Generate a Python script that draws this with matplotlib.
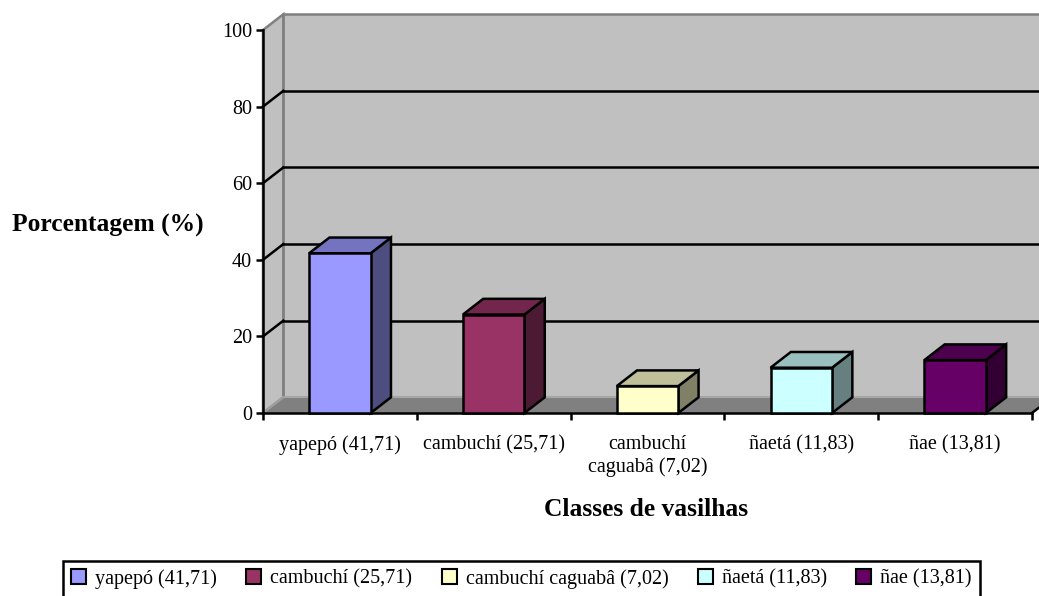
# -*- coding: utf-8 -*-
import matplotlib.pyplot as plt
from matplotlib.patches import Polygon, Rectangle, Patch
import numpy as np

plt.rcParams['font.family'] = ['Liberation Serif', 'DejaVu Serif']

# dados
classes = ['yapepó (41,71)', 'cambuchí (25,71)', 'cambuchí\ncaguabâ (7,02)', 'ñaetá (11,83)', 'ñae (13,81)']
legenda = ['yapepó (41,71)', 'cambuchí (25,71)', 'cambuchí caguabâ (7,02)', 'ñaetá (11,83)', 'ñae (13,81)']
porcentagem = [41.71, 25.71, 7.02, 11.83, 13.81]
cor_frente = ['#9999FF', '#993366', '#FFFFCC', '#CCFFFF', '#660066']
cor_topo = ['#7373BF', '#73264D', '#BFBF99', '#99BFBF', '#4D004D']
cor_lado = ['#4D4D80', '#4D1A33', '#808066', '#668080', '#330033']

# profundidade do efeito 3D (em unidades dos eixos)
dx = 0.132
dy = 4.1
larg = 0.40
n = len(porcentagem)
lw = 1.8

fig = plt.figure(figsize=(10.39, 5.96), dpi=100)
ax = fig.add_axes([263/1039., 1-413/596., (1032-263)/1039., (413-30)/596.])
ax.set_xlim(0, n)
ax.set_ylim(0, 100)

# parede do fundo, parede lateral e chao
ax.add_patch(Polygon([(dx, dy), (n+dx, dy), (n+dx, 100+dy), (dx, 100+dy)],
                     facecolor='#C0C0C0', edgecolor='#808080', lw=lw, clip_on=False, zorder=0))
ax.add_patch(Polygon([(0, 0), (dx, dy), (dx, 100+dy), (0, 100)],
                     facecolor='#C0C0C0', edgecolor='#808080', lw=lw, clip_on=False, zorder=0))
ax.add_patch(Polygon([(0, 0), (n, 0), (n+dx, dy), (dx, dy)],
                     facecolor='#808080', edgecolor='none', clip_on=False, zorder=0.5))
ax.plot([dx, n+dx], [dy, dy], color='#A6A6A6', lw=1.5, clip_on=False, zorder=0.6)
ax.plot([0, dx], [0, dy], color='#A0A0A0', lw=1.5, clip_on=False, zorder=0.6)
ax.plot([n, n+dx], [0, dy], color='black', lw=lw, clip_on=False, zorder=0.6)

# linhas de grade
for v in [20, 40, 60, 80]:
    ax.plot([dx, n+dx], [v+dy, v+dy], color='black', lw=lw, clip_on=False, zorder=1)
    ax.plot([0, dx], [v, v+dy], color='black', lw=lw, clip_on=False, zorder=1)

# barras 3D
for i, v in enumerate(porcentagem):
    x0 = i + 0.5 - larg/2
    x1 = x0 + larg
    ax.add_patch(Polygon([(x1, 0), (x1+dx, dy), (x1+dx, v+dy), (x1, v)],
                         facecolor=cor_lado[i], edgecolor='black', lw=lw, clip_on=False, zorder=3))
    ax.add_patch(Polygon([(x0, v), (x1, v), (x1+dx, v+dy), (x0+dx, v+dy)],
                         facecolor=cor_topo[i], edgecolor='black', lw=lw, clip_on=False, zorder=3))
    ax.add_patch(Rectangle((x0, 0), larg, v, facecolor=cor_frente[i], edgecolor='black',
                           lw=lw, clip_on=False, zorder=3))

ax.spines['top'].set_visible(False)
ax.spines['right'].set_visible(False)
ax.spines['left'].set_linewidth(lw)
ax.spines['bottom'].set_linewidth(lw)
ax.set_facecolor('none')

ax.set_yticks([0, 20, 40, 60, 80, 100])
ax.tick_params(axis='y', length=5, width=lw, pad=3, labelsize=14.5)
ax.set_xticks(np.arange(n+1))
ax.set_xticklabels([])
ax.tick_params(axis='x', which='major', length=5, width=lw)
ax.set_xticks(np.arange(n) + 0.5, minor=True)
ax.set_xticklabels(classes, minor=True, fontsize=14.5, linespacing=1.2)
ax.tick_params(axis='x', which='minor', length=0, pad=16)

fig.text(12/1039., 1-225/596., 'Porcentagem (%)', fontsize=18.4, fontweight='bold', va='center', ha='left')
fig.text(646/1039., 1-509/596., 'Classes de vasilhas', fontsize=18.4, fontweight='bold', va='center', ha='center')

handles = [Patch(facecolor=c, edgecolor='black', lw=1.5) for c in cor_frente]
leg = fig.legend(handles, legenda, ncol=5, loc='upper left', bbox_to_anchor=(63/1039., 1-561/596.),
                 frameon=True, fancybox=False, framealpha=1, edgecolor='black',
                 handlelength=0.75, handleheight=0.75, handletextpad=0.45, columnspacing=1.45,
                 borderpad=0.4, borderaxespad=0, fontsize=14.5)
leg.get_frame().set_linewidth(lw)

plt.savefig('out.png', dpi=100)
